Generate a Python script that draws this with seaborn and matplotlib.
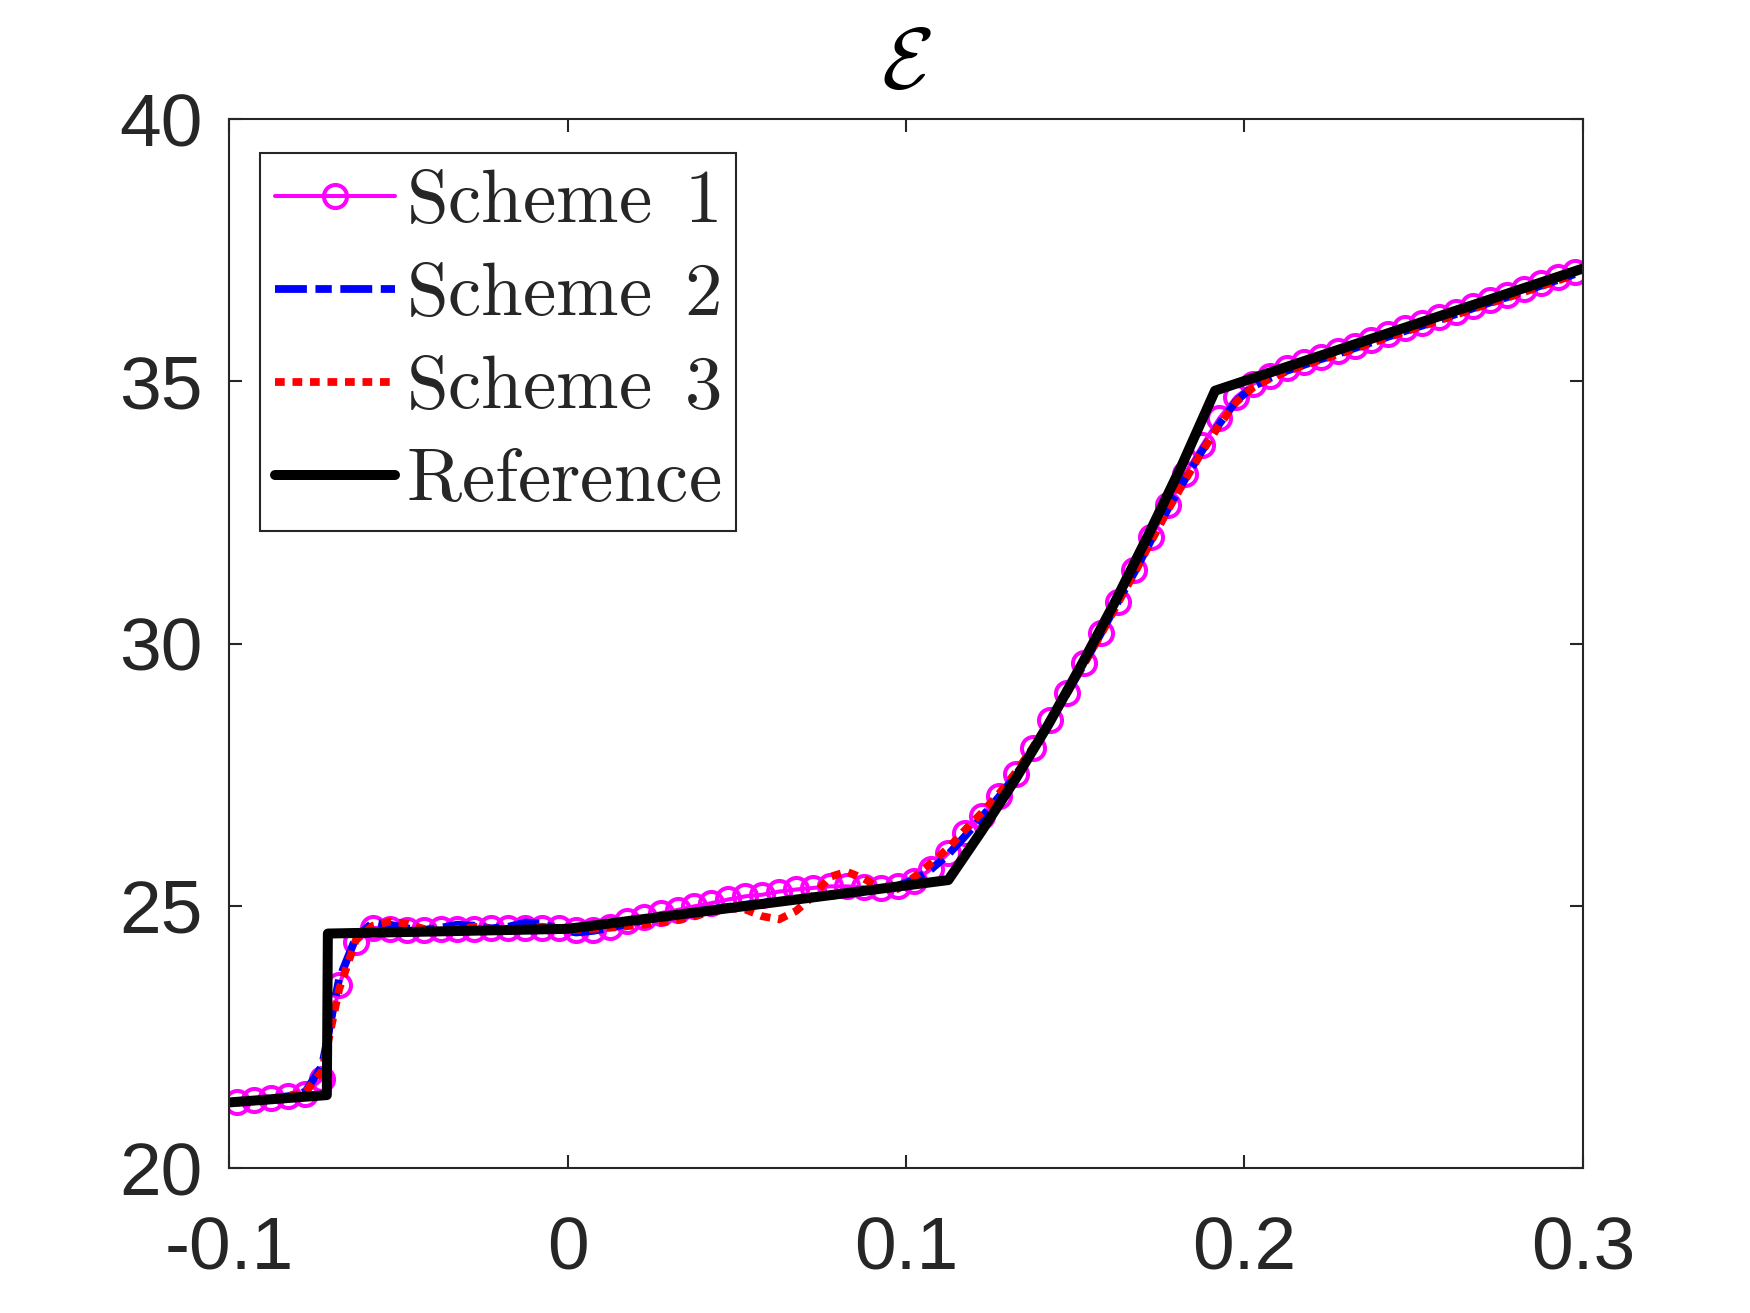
import matplotlib
matplotlib.use("Agg")
import matplotlib.pyplot as plt
import seaborn as sns

# ---------------- data ----------------
x_grid = [-0.0975, -0.0925, -0.0875, -0.0825, -0.0775, -0.0725, -0.0675, -0.0625, -0.0575, -0.0525,
          -0.0475, -0.0425, -0.0375, -0.0325, -0.0275, -0.0225, -0.0175, -0.0125, -0.0075, -0.0025,
          0.0025, 0.0075, 0.0125, 0.0175, 0.0225, 0.0275, 0.0325, 0.0375, 0.0425, 0.0475,
          0.0525, 0.0575, 0.0625, 0.0675, 0.0725, 0.0775, 0.0825, 0.0875, 0.0925, 0.0975,
          0.1025, 0.1075, 0.1125, 0.1175, 0.1225, 0.1275, 0.1325, 0.1375, 0.1425, 0.1475,
          0.1525, 0.1575, 0.1625, 0.1675, 0.1725, 0.1775, 0.1825, 0.1875, 0.1925, 0.1975,
          0.2025, 0.2075, 0.2125, 0.2175, 0.2225, 0.2275, 0.2325, 0.2375, 0.2425, 0.2475,
          0.2525, 0.2575, 0.2625, 0.2675, 0.2725, 0.2775, 0.2825, 0.2875, 0.2925, 0.2975]

scheme1 = [21.26, 21.30, 21.34, 21.38, 21.42, 21.70, 23.49, 24.30, 24.58, 24.56,
           24.54, 24.54, 24.55, 24.55, 24.56, 24.57, 24.57, 24.58, 24.58, 24.58,
           24.54, 24.54, 24.60, 24.70, 24.78, 24.86, 24.92, 24.99, 25.05, 25.12,
           25.18, 25.21, 25.27, 25.31, 25.34, 25.37, 25.37, 25.35, 25.34, 25.38,
           25.48, 25.70, 26.00, 26.39, 26.72, 27.10, 27.52, 28.00, 28.54, 29.05,
           29.62, 30.20, 30.80, 31.40, 32.04, 32.64, 33.24, 33.78, 34.29, 34.70,
           34.95, 35.10, 35.25, 35.36, 35.47, 35.57, 35.68, 35.79, 35.90, 36.01,
           36.11, 36.22, 36.33, 36.44, 36.55, 36.65, 36.76, 36.87, 36.98, 37.09]

scheme2 = [21.25, 21.29, 21.33, 21.37, 21.45, 21.95, 23.60, 24.40, 24.68, 24.64,
           24.57, 24.54, 24.58, 24.64, 24.62, 24.57, 24.60, 24.68, 24.66, 24.55,
           24.49, 24.52, 24.58, 24.65, 24.72, 24.78, 24.84, 24.88, 24.93, 24.98,
           25.02, 25.06, 25.09, 25.12, 25.16, 25.20, 25.24, 25.28, 25.32, 25.38,
           25.50, 25.70, 25.98, 26.33, 26.70, 27.08, 27.50, 27.97, 28.50, 29.04,
           29.60, 30.18, 30.78, 31.36, 31.98, 32.58, 33.14, 33.68, 34.18, 34.62,
           34.90, 35.06, 35.20, 35.31, 35.42, 35.52, 35.63, 35.74, 35.85, 35.96,
           36.06, 36.17, 36.28, 36.39, 36.50, 36.60, 36.71, 36.82, 36.93, 37.04]

scheme3 = [21.25, 21.29, 21.33, 21.37, 21.44, 21.85, 23.40, 24.35, 24.62, 24.70,
           24.66, 24.56, 24.50, 24.55, 24.60, 24.56, 24.52, 24.56, 24.60, 24.56,
           24.54, 24.56, 24.58, 24.61, 24.64, 24.68, 24.73, 24.80, 24.89, 24.95,
           24.93, 24.80, 24.74, 24.90, 25.18, 25.55, 25.65, 25.52, 25.33, 25.32,
           25.55, 25.82, 26.10, 26.45, 26.78, 27.14, 27.55, 28.02, 28.54, 29.04,
           29.60, 30.16, 30.76, 31.34, 31.96, 32.56, 33.12, 33.66, 34.16, 34.60,
           34.88, 35.05, 35.19, 35.30, 35.41, 35.51, 35.62, 35.73, 35.84, 35.95,
           36.05, 36.16, 36.27, 36.38, 36.49, 36.59, 36.70, 36.81, 36.92, 37.03]

ref_x = [-0.1, -0.0711, -0.0708, 0.0, 0.1125, 0.1224, 0.1322, 0.1421, 0.1519,
         0.1618, 0.1716, 0.1815, 0.1913, 0.3]
ref_y = [21.25, 21.39, 24.47, 24.56, 25.49, 26.43, 27.40, 28.46, 29.60,
         30.80, 32.07, 33.40, 34.82, 37.15]

series_labels = [r"$\mathrm{Scheme\ \,1}$", r"$\mathrm{Scheme\ \,2}$",
                 r"$\mathrm{Scheme\ \,3}$", r"$\mathrm{Reference}$"]
title_text = r"$\mathcal{E}$"
x_ticks = [-0.1, 0.0, 0.1, 0.2, 0.3]
x_tick_labels = ["-0.1", "0", "0.1", "0.2", "0.3"]
y_ticks = [20, 25, 30, 35, 40]
y_tick_labels = ["20", "25", "30", "35", "40"]

# ---------------- style ----------------
sns.set_style("ticks")
plt.rcParams["font.family"] = ["Liberation Sans", "DejaVu Sans"]
plt.rcParams["mathtext.fontset"] = "cm"
axc = "#262626"

fig = plt.figure(figsize=(17.5, 13.13), dpi=100)
ax = fig.add_axes([0.13086, 0.11043, 0.77371, 0.79893])

sns.lineplot(x=x_grid, y=scheme1, ax=ax, sort=False, estimator=None,
             color="#FF00FF", linewidth=2.9, marker="o", markersize=16.6,
             markerfacecolor="none", markeredgecolor="#FF00FF", markeredgewidth=2.9,
             label=series_labels[0])
sns.lineplot(x=x_grid, y=scheme2, ax=ax, sort=False, estimator=None,
             color="#0000FF", linewidth=5.6, linestyle=(0, (4.1, 1.1, 2.1, 1.1)),
             label=series_labels[1])
sns.lineplot(x=x_grid, y=scheme3, ax=ax, sort=False, estimator=None,
             color="#FF0000", linewidth=5.6, linestyle=(0, (1.25, 1.0)),
             label=series_labels[2])
sns.lineplot(x=ref_x, y=ref_y, ax=ax, sort=False, estimator=None,
             color="#000000", linewidth=7.2, label=series_labels[3])

ax.set_xlim(-0.1, 0.3)
ax.set_ylim(20, 40)
ax.set_xticks(x_ticks)
ax.set_xticklabels(x_tick_labels)
ax.set_yticks(y_ticks)
ax.set_yticklabels(y_tick_labels)
ax.set_xlabel("")
ax.set_ylabel("")

for s in ax.spines.values():
    s.set_visible(True)
    s.set_color(axc)
    s.set_linewidth(1.5)
ax.tick_params(direction="in", length=9.4, width=1.5, top=True, right=True,
               labelsize=54, color=axc, labelcolor=axc)
ax.tick_params(axis="x", pad=34)
ax.tick_params(axis="y", pad=19)

ax.set_title(title_text, fontsize=62, pad=22, color="black")

handles, _ = ax.get_legend_handles_labels()
leg = ax.legend(handles, series_labels, loc="upper left",
                bbox_to_anchor=(0.0229, 0.9676), borderaxespad=0,
                fontsize=54, handlelength=1.6, handletextpad=0.14,
                borderpad=0.2, labelspacing=0.32, fancybox=False,
                framealpha=1, edgecolor=axc)
leg.get_frame().set_linewidth(1.5)

fig.savefig("out.png", dpi=100, facecolor="white")
